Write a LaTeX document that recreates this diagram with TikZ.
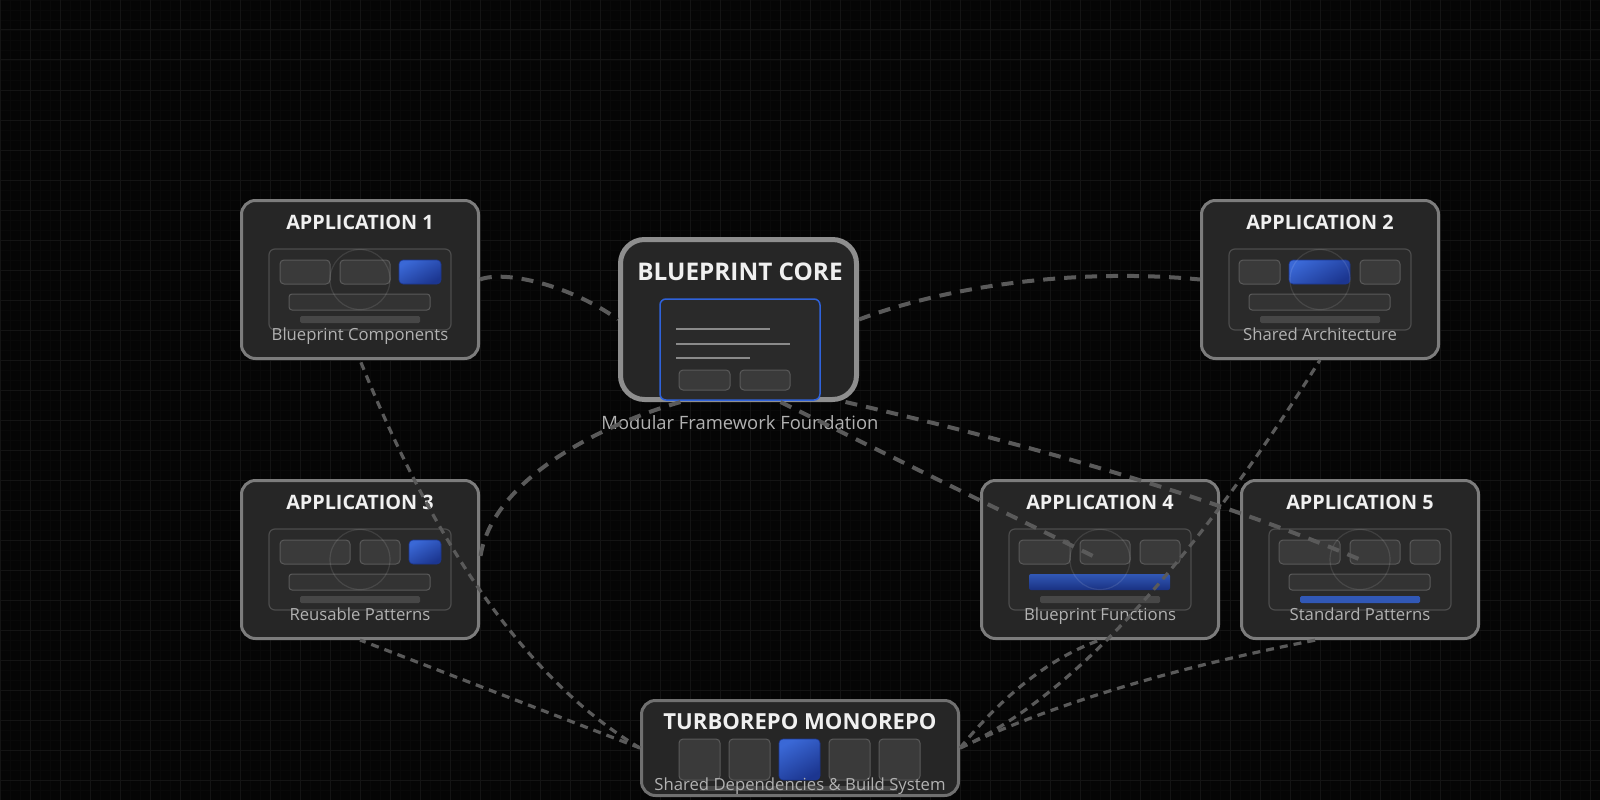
\documentclass[tikz,border=0pt]{standalone}
\usepackage{fontspec}
\setmainfont{Open Sans}
\usepackage{tikz}
\definecolor{bg}{HTML}{050505}
\definecolor{gridminor}{HTML}{090909}
\definecolor{gridmajor}{HTML}{141414}
\definecolor{cardfill}{HTML}{262626}
\definecolor{cardedge}{HTML}{7C7C7C}
\definecolor{coreedge}{HTML}{8E8E8E}
\definecolor{baseedge}{HTML}{707070}
\definecolor{panelfill}{HTML}{2A2A2A}
\definecolor{paneledge}{HTML}{4C4C4C}
\definecolor{btnfill}{HTML}{3A3A3A}
\definecolor{btnedge}{HTML}{5A5A5A}
\definecolor{barfill}{HTML}{333333}
\definecolor{slimfill}{HTML}{474747}
\definecolor{blueA}{HTML}{3A68D6}
\definecolor{blueB}{HTML}{1C3690}
\definecolor{coreblue}{HTML}{2F62DA}
\definecolor{linkgray}{HTML}{5A5A5A}
\definecolor{titlegray}{HTML}{F0F0F0}
\definecolor{labelgray}{HTML}{B2B2B2}
\definecolor{sketchgray}{HTML}{8A8A8A}

% #1 name, #2 centre, #3 title, #4 caption, #5 top row, #6 wide bar, #7 slim bar
\newcommand{\appcard}[7]{%
  \node[card] (#1) at (#2) {};
  \begin{scope}[shift={(#1.center)}]
    \path[panel] (-91,-30.5) rectangle (91,50.5);
    \foreach \a/\b/\s in {#5} {\path[\s] (\a,-19.5) rectangle (\b,4.5);}
    \path[#6] (-71,14.5) rectangle (70,30.5);
    \path[#7] (-60,36.5) rectangle (60,43.5);
    \draw[ring] (0,0) circle (30);
  \end{scope}
  \node[cardtitle] (#1t) at ([yshift=50pt]#1.center) {#3};
  \node[cardlabel] (#1l) at ([yshift=-60.5pt]#1.center) {#4};
}

\begin{document}
\begin{tikzpicture}[x=1pt,y=-1pt,
  card/.style={draw=cardedge,fill=cardfill,line width=3pt,rounded corners=14pt,minimum width=237pt,minimum height=158pt},
  corecard/.style={draw=coreedge,fill=cardfill,line width=5pt,rounded corners=24pt,minimum width=236pt,minimum height=160pt},
  basecard/.style={draw=baseedge,fill=cardfill,line width=3pt,rounded corners=14pt,minimum width=317pt,minimum height=95pt},
  panel/.style={draw=paneledge,fill=panelfill,line width=1.2pt,rounded corners=6pt},
  btn/.style={draw=btnedge,fill=btnfill,line width=1pt,rounded corners=4pt},
  bluebtn/.style={draw=blueB,line width=0.6pt,rounded corners=4pt,top color=blueA,bottom color=blueB,shading angle=30},
  bar/.style={draw=btnedge,fill=barfill,line width=1pt,rounded corners=3pt},
  bluebar/.style={rounded corners=2pt,top color=blueA!85!black,bottom color=blueB!90!black},
  slim/.style={fill=slimfill,rounded corners=1.5pt},
  blueslim/.style={fill=blueA!85!black,rounded corners=1.5pt},
  ring/.style={draw=white,draw opacity=0.1,line width=1.2pt},
  cardtitle/.style={anchor=base,inner sep=0pt,text=titlegray,font=\fontsize{19.8}{22}\selectfont\bfseries},
  coretitle/.style={anchor=base,inner sep=0pt,text=titlegray,font=\fontsize{24.3}{27}\selectfont\bfseries},
  basetitle/.style={anchor=base,inner sep=0pt,text=titlegray,font=\fontsize{22.1}{25}\selectfont\bfseries},
  cardlabel/.style={anchor=base,inner sep=0pt,text=labelgray,font=\fontsize{16.7}{19}\selectfont},
  corelabel/.style={anchor=base,inner sep=0pt,text=labelgray,font=\fontsize{18.4}{20}\selectfont},
  corelink/.style={draw=linkgray,line width=4pt,dash pattern=on 12pt off 9pt},
  baselink/.style={draw=linkgray,line width=3.2pt,dash pattern=on 8pt off 6pt}]

  % background and grid
  \fill[bg] (0,0) rectangle (1600,800);
  \useasboundingbox (0,0) rectangle (1600,800);
  \foreach \x in {0,10,...,1600} \draw[gridminor,line width=0.8pt] (\x,0) -- (\x,800);
  \foreach \y in {0,10,...,800} \draw[gridminor,line width=0.8pt] (0,\y) -- (1600,\y);
  \foreach \x in {0,30,...,1590} \draw[gridmajor,line width=1pt] (\x,0) -- (\x,800);
  \foreach \y in {0,30,...,780} \draw[gridmajor,line width=1pt] (0,\y) -- (1600,\y);

  % application cards
  \appcard{app1}{360,279.5}{APPLICATION 1}{Blueprint Components}{-80/-30/btn,-20/30/btn,39/81/bluebtn}{bar}{slim}
  \appcard{app2}{1320,279.5}{APPLICATION 2}{Shared Architecture}{-81/-40/btn,-31/30/bluebtn,40/80/btn}{bar}{slim}
  \appcard{app3}{360,559.5}{APPLICATION 3}{Reusable Patterns}{-80/-10/btn,0/40/btn,49/81/bluebtn}{bar}{slim}
  \appcard{app4}{1100,559.5}{APPLICATION 4}{Blueprint Functions}{-81/-30/btn,-20/30/btn,40/80/btn}{bluebar}{slim}
  \appcard{app5}{1360,559.5}{APPLICATION 5}{Standard Patterns}{-81/-20/btn,-10/40/btn,50/80/btn}{bar}{blueslim}

  % core
  \node[corecard] (core) at (738.5,319.5) {};
  \node[coretitle] (coret) at (740,280) {BLUEPRINT CORE};
  \draw[coreblue,fill=panelfill,line width=1.5pt,rounded corners=6pt] (660,299) rectangle (820,400);
  \foreach \y/\l in {329/94,344/114,358/74} \draw[sketchgray,line width=1.6pt] (676,\y) -- ++(\l,0);
  \path[btn] (679,370) rectangle (730,390);
  \path[btn] (740,370) rectangle (790,390);
  \node[corelabel] (corel) at (740,429) {Modular Framework Foundation};

  % monorepo
  \node[basecard] (turbo) at (800,748) {};
  \node[basetitle] (turbot) at (800,729) {TURBOREPO MONOREPO};
  \fill[slimfill] (700,786) rectangle (897,791);
  \foreach \x/\s in {679/btn,729/btn,779/bluebtn,829/btn,879/btn} \path[\s] (\x,739) rectangle ++(41,41);
  \node[cardlabel] (turbol) at (800,790) {Shared Dependencies \& Build System};

  % links from the core
  \coordinate (coreA) at ([xshift=-58pt]core.south);
  \coordinate (coreB) at ([xshift=42pt]core.south);
  \coordinate (coreC) at ([xshift=107pt]core.south);
  \draw[corelink] (app1.east) .. controls +(25,-9.5) and +(-48,-34.5) .. (core.west);
  \draw[corelink] (core.east) .. controls +(91,-34.5) and +(-120,-11.5) .. (app2.west);
  \draw[corelink] (coreA) .. controls +(-80,23) and +(10,-79.5) .. (app3.east);
  \draw[corelink] (coreB) -- (app4.center);
  \draw[corelink] (coreC) .. controls +(212,49) and +(-133,-56.5) .. (app5.center);

  % links from the monorepo
  \coordinate (app5x) at ([xshift=-44pt]app5.south);
  \draw[baselink] (turbo.west) -- (app3.south);
  \draw[baselink] (turbo.west) .. controls +(-109,-65) and +(77,192) .. (app1.south);
  \draw[baselink] (turbo.east) .. controls +(45,-55) and +(-48,17) .. (app4.south);
  \draw[baselink] (turbo.east) .. controls +(109,-49) and +(-131,209) .. (app2.south);
  \draw[baselink] (turbo.east) .. controls +(89,-42) and +(-149,29) .. (app5x);
\end{tikzpicture}
\end{document}
